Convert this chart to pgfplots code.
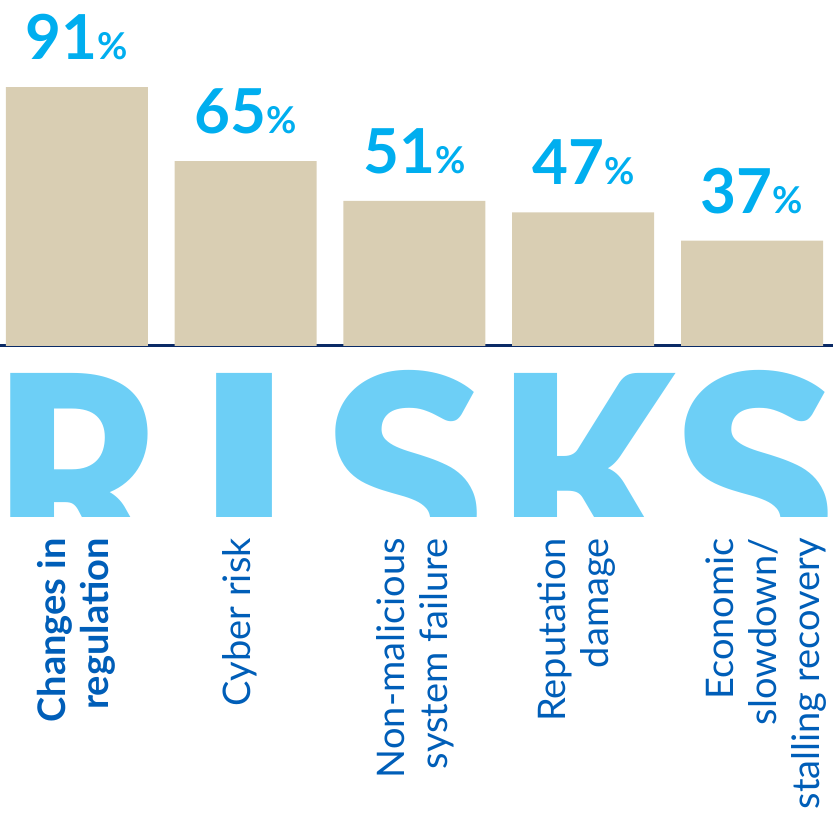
\documentclass[border=0pt]{standalone}
\usepackage{pgfplots}
\pgfplotsset{compat=1.18}
\usepackage{fontspec}
\setmainfont{Lato}
\newfontfamily\riskfont{Lato Black}
\definecolor{barc}{HTML}{D9CEB3}
\definecolor{pct}{HTML}{00AEEF}
\definecolor{risk}{HTML}{6DCFF6}
\definecolor{navy}{HTML}{0A2A66}
\definecolor{lab}{HTML}{005EB8}
\begin{document}
\begin{tikzpicture}
\useasboundingbox (0pt,0pt) rectangle (833pt,818pt);
\begin{scope}
\clip (0pt,301pt) rectangle (833pt,468pt);
\node[anchor=north, inner sep=0pt, text=risk] at (78pt,445pt) {\resizebox{170pt}{205pt}{\riskfont R}};
\node[anchor=north, inner sep=0pt, text=risk] at (245pt,445pt) {\resizebox{102pt}{205pt}{\riskfont I}};
\node[anchor=north, inner sep=0pt, text=risk] at (405pt,448pt) {\resizebox{162pt}{210pt}{\riskfont S}};
\node[anchor=north, inner sep=0pt, text=risk] at (587pt,445pt) {\resizebox{180pt}{205pt}{\riskfont K}};
\node[anchor=north, inner sep=0pt, text=risk] at (755pt,448pt) {\resizebox{164pt}{210pt}{\riskfont S}};
\end{scope}
\begin{axis}[
  at={(0pt,472pt)}, anchor=south west,
  scale only axis, width=833pt, height=346pt,
  xmin=-0.456, xmax=4.48, ymin=0, ymax=121.6,
  axis x line=bottom, axis y line=none,
  axis line style={-, navy, line width=3pt},
  major tick length=0pt,
  xtick={-0.006,0.966,2.003,2.963,4.083},
  xticklabels={{\bfseries Changes in\\\bfseries regulation},{Cyber risk},{Non-malicious\\system failure},{Reputation\\damage},{Economic\\slowdown/\\stalling recovery}},
  xticklabel style={rotate=90, anchor=east, align=right, text=lab, font=\fontsize{38}{43}\selectfont, inner sep=0pt},
  xticklabel shift=192pt,
  ybar, bar width=142pt,
  clip=false,
  /pgf/number format/assume math mode=true,
  nodes near coords={\fontsize{62}{62}\selectfont\bfseries\pgfmathprintnumber{\pgfplotspointmeta}{\fontsize{37}{37}\selectfont\%}},
  every node near coord/.append style={anchor=south, inner sep=0pt, yshift=27pt, text=pct},
]
\addplot[fill=barc, draw=none] coordinates {(0,91) (1,65) (2,51) (3,47) (4,37)};
\end{axis}
\end{tikzpicture}
\end{document}
